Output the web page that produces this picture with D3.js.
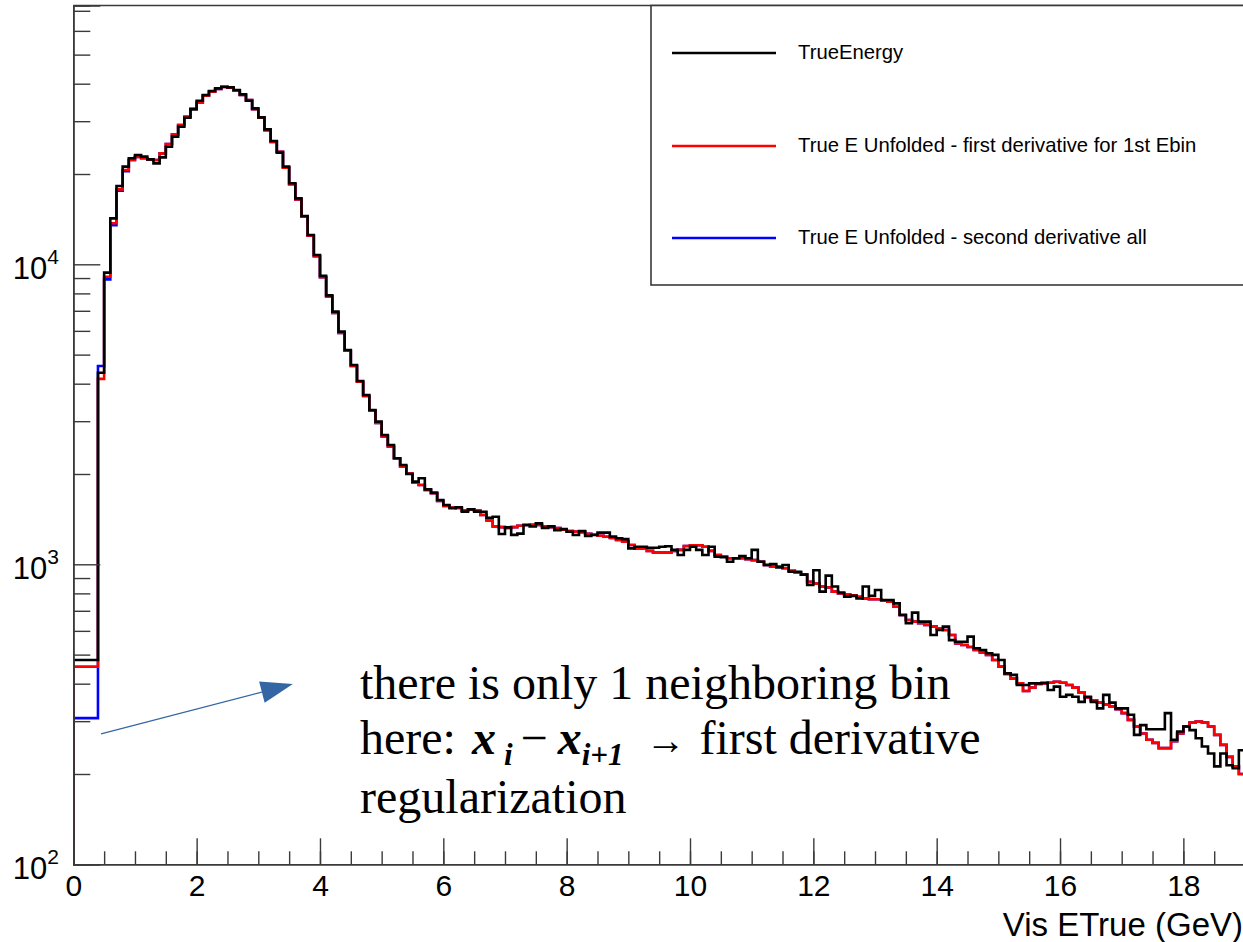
<!DOCTYPE html>
<html>
<head>
<meta charset="utf-8">
<script src="https://cdn.jsdelivr.net/npm/d3@7"></script>
<style>
  html, body { margin: 0; padding: 0; background: #fff; }
  svg { display: block; }
</style>
</head>
<body>
<svg id="chart" width="1243" height="942"></svg>
<script>
// Histogram binning: 0.1 GeV bins starting at 0
const binLow = 0;
const binStep = 0.1;

// TrueEnergy
const trueEnergy = [
  480, 480, 480, 480, 4350, 9380, 14230, 18240, 21160, 22560,
  23140, 22850, 22380, 21700, 22730, 24660, 26640, 28760, 30810, 32850,
  35110, 36670, 37810, 38590, 39090, 38890, 38110, 36860, 35110, 33110,
  30900, 28180, 25760, 23560, 21160, 18620, 16590, 14490, 12520, 10740,
  9150, 7880, 6953, 5964, 5182, 4617, 4083, 3667, 3268, 2989,
  2698, 2499, 2256, 2143, 2000, 1886, 1935, 1778, 1733, 1638,
  1576, 1537, 1549, 1498, 1525, 1498, 1497, 1430, 1441, 1262,
  1328, 1253, 1266, 1352, 1338, 1369, 1323, 1338, 1300, 1310,
  1284, 1252, 1290, 1243, 1252, 1275, 1275, 1237, 1221, 1213,
  1130, 1144, 1144, 1135, 1135, 1144, 1149, 1117, 1074, 1117,
  1144, 1117, 1074, 1144, 1061, 1056, 1020, 1047, 1065, 1047,
  1117, 1020, 995, 1002, 977, 995, 945, 945, 924, 853,
  955, 811, 917, 843, 805, 780, 785, 770, 843, 785,
  821, 760, 760, 741, 678, 636, 690, 644, 644, 581,
  604, 620, 559, 552, 552, 574, 525, 518, 505, 499,
  480, 433, 428, 396, 396, 401, 401, 403, 381, 391,
  362, 367, 362, 348, 362, 348, 331, 367, 346, 331,
  331, 315, 270, 291, 282, 282, 282, 319, 260, 277,
  288, 280, 263, 247, 234, 212, 234, 214, 209, 240
];

// True E Unfolded - first derivative for 1st Ebin
const unfoldedFirstDeriv = [
  456, 456, 456, 456, 4150, 9090, 13700, 17780, 20620, 22270,
  22780, 22560, 22380, 22270, 23440, 25180, 27120, 29130, 31050, 33000,
  34600, 36500, 37600, 38400, 39000, 38800, 37900, 36680, 35270, 32900,
  30800, 28020, 25600, 23720, 21000, 18500, 16450, 14400, 12450, 10650,
  9050, 7820, 6880, 5900, 5150, 4580, 4060, 3640, 3250, 2960,
  2670, 2470, 2256, 2120, 2005, 1870, 1839, 1770, 1725, 1625,
  1565, 1545, 1540, 1510, 1525, 1510, 1460, 1400, 1338, 1330,
  1323, 1330, 1345, 1352, 1355, 1352, 1340, 1330, 1320, 1305,
  1290, 1285, 1280, 1265, 1255, 1245, 1235, 1225, 1205, 1190,
  1160, 1130, 1130, 1109, 1095, 1095, 1095, 1109, 1117, 1151,
  1158, 1158, 1144, 1109, 1074, 1061, 1047, 1047, 1047, 1040,
  1033, 1020, 995, 982, 982, 970, 952, 938, 924, 874,
  862, 843, 838, 811, 800, 793, 789, 780, 770, 765,
  765, 758, 750, 722, 678, 652, 644, 636, 628, 620,
  612, 604, 581, 545, 538, 530, 518, 508, 499, 480,
  456, 431, 416, 401, 378, 388, 399, 401, 403, 406,
  403, 396, 388, 374, 360, 352, 346, 341, 336, 329,
  319, 303, 288, 273, 260, 254, 244, 244, 257, 273,
  288, 297, 299, 297, 288, 270, 250, 228, 212, 200
];

// True E Unfolded - second derivative all
const unfoldedSecondDeriv = [
  307, 307, 307, 307, 4580, 8910, 13500, 17600, 20450, 22270,
  22780, 22560, 22380, 22270, 23440, 25180, 27120, 29130, 31050, 33000,
  34600, 36500, 37600, 38400, 39000, 38800, 37900, 36680, 35270, 32900,
  30800, 28020, 25600, 23720, 21000, 18500, 16450, 14400, 12450, 10650,
  9050, 7820, 6880, 5900, 5150, 4580, 4060, 3640, 3250, 2960,
  2670, 2470, 2256, 2120, 2005, 1870, 1839, 1770, 1725, 1625,
  1565, 1545, 1540, 1510, 1525, 1510, 1460, 1400, 1338, 1330,
  1323, 1330, 1345, 1352, 1355, 1352, 1340, 1330, 1320, 1305,
  1290, 1285, 1280, 1265, 1255, 1245, 1235, 1225, 1205, 1190,
  1160, 1130, 1130, 1109, 1095, 1095, 1095, 1109, 1117, 1151,
  1158, 1158, 1144, 1109, 1074, 1061, 1047, 1047, 1047, 1040,
  1033, 1020, 995, 982, 982, 970, 952, 938, 924, 874,
  862, 843, 838, 811, 800, 793, 789, 780, 770, 765,
  765, 758, 750, 722, 678, 652, 644, 636, 628, 620,
  612, 604, 581, 545, 538, 530, 518, 508, 499, 480,
  456, 431, 416, 401, 378, 388, 399, 401, 403, 406,
  403, 396, 388, 374, 360, 352, 346, 341, 336, 329,
  319, 303, 288, 273, 260, 254, 244, 244, 257, 273,
  288, 297, 299, 297, 288, 270, 250, 228, 212, 200
];

const seriesNames = [
  "TrueEnergy",
  "True E Unfolded - first derivative for 1st Ebin",
  "True E Unfolded - second derivative all"
];
const seriesColors = ["#000000", "#ff0000", "#0000ff"];

const xTickLabels = [0, 2, 4, 6, 8, 10, 12, 14, 16, 18];
const yDecades = [100, 1000, 10000];
const xTitle = "Vis ETrue (GeV)";

const noteLine1 = "there is only 1 neighboring bin";
const noteLine3 = "regularization";

// ---- layout ----
const svg = d3.select("#chart");
const frame = { left: 73.3, top: 5.5, bottom: 864.3 };
const pxPerUnit = 61.67;
const xMax = 20;
const yMin = 100, yMax = 72900;

const x = d3.scaleLinear().domain([0, xMax]).range([frame.left, frame.left + xMax * pxPerUnit]);
const y = d3.scaleLog().domain([yMin, yMax]).range([frame.bottom, frame.top]);

const axisColor = "#3a3a3a";
const sansFont = "'Liberation Sans', Arial, Helvetica, sans-serif";
const serifFont = "'Liberation Serif', 'Times New Roman', serif";

svg.append("defs").append("clipPath").attr("id", "plotClip")
  .append("rect")
  .attr("x", x(0)).attr("y", y(yMax))
  .attr("width", x(xMax) - x(0)).attr("height", y(yMin) - y(yMax));

// ---- histograms (drawn back to front: blue, red, black) ----
function stepPoints(values) {
  const pts = [[binLow, yMin]];
  values.forEach((v, i) => pts.push([binLow + i * binStep, v]));
  pts.push([binLow + values.length * binStep, values[values.length - 1]]);
  return pts;
}
const stepLine = d3.line()
  .x(d => x(d[0]))
  .y(d => y(Math.max(d[1], yMin)))
  .curve(d3.curveStepAfter);

const plot = svg.append("g").attr("clip-path", "url(#plotClip)");
const seriesData = [trueEnergy, unfoldedFirstDeriv, unfoldedSecondDeriv];
[2, 1, 0].forEach(k => {
  plot.append("path")
    .attr("d", stepLine(stepPoints(seriesData[k])))
    .attr("fill", "none")
    .attr("stroke", seriesColors[k])
    .attr("stroke-width", 2.6)
    .attr("stroke-linejoin", "miter");
});

// ---- frame ----
svg.append("line")
  .attr("x1", x(0)).attr("x2", x(xMax))
  .attr("y1", y(yMax)).attr("y2", y(yMax))
  .attr("stroke", axisColor).attr("stroke-width", 1.6);

// ---- x axis ----
const minorX = d3.range(0, xMax + 0.001, 0.5);
const gxMinor = svg.append("g").attr("transform", `translate(0,${frame.bottom})`)
  .call(d3.axisBottom(x).tickValues(minorX).tickSize(-13).tickFormat(""));
const gxMajor = svg.append("g").attr("transform", `translate(0,${frame.bottom})`)
  .call(d3.axisBottom(x).tickValues(xTickLabels).tickSize(-26).tickPadding(32).tickFormat(d3.format("d")));
[gxMinor, gxMajor].forEach(g => {
  g.selectAll("path.domain").attr("stroke", axisColor).attr("stroke-width", 1.6);
  g.selectAll(".tick line").attr("stroke", axisColor).attr("stroke-width", 1.4);
});
gxMajor.selectAll(".tick text")
  .attr("font-family", sansFont).attr("font-size", 30).attr("fill", "#000")
  .attr("dy", 0).attr("y", 32);

svg.append("text")
  .attr("x", 1243).attr("y", 936)
  .attr("text-anchor", "end")
  .attr("font-family", sansFont).attr("font-size", 33).attr("fill", "#000")
  .text(xTitle);

// ---- y axis ----
const minorY = [];
for (let dec = 100; dec <= 10000; dec *= 10) {
  for (let m = 2; m <= 9; m++) if (dec * m <= yMax) minorY.push(dec * m);
}
const gyMinor = svg.append("g").attr("transform", `translate(${frame.left},0)`)
  .call(d3.axisLeft(y).tickValues(minorY).tickSize(-17).tickFormat(""));
const gyMajor = svg.append("g").attr("transform", `translate(${frame.left},0)`)
  .call(d3.axisLeft(y).tickValues(yDecades).tickSize(-27).tickFormat(""));
[gyMinor, gyMajor].forEach(g => {
  g.selectAll("path.domain").attr("stroke", axisColor).attr("stroke-width", 1.6);
  g.selectAll(".tick line").attr("stroke", axisColor).attr("stroke-width", 1.4);
});
yDecades.forEach(v => {
  const t = svg.append("text")
    .attr("x", 59).attr("y", y(v) + 15)
    .attr("text-anchor", "end")
    .attr("font-family", sansFont).attr("font-size", 31).attr("fill", "#000");
  t.append("tspan").text("10");
  t.append("tspan").attr("font-size", 21).attr("dy", -15).text(String(Math.round(Math.log10(v))));
});

// ---- legend ----
const legend = svg.append("g");
legend.append("rect")
  .attr("x", 651).attr("y", y(yMax))
  .attr("width", 700).attr("height", 285 - y(yMax))
  .attr("fill", "#fff").attr("stroke", axisColor).attr("stroke-width", 1.6);
const legendRows = [53, 146, 238];
seriesNames.forEach((name, k) => {
  legend.append("line")
    .attr("x1", 672).attr("x2", 776)
    .attr("y1", legendRows[k]).attr("y2", legendRows[k])
    .attr("stroke", seriesColors[k]).attr("stroke-width", 2.6);
  legend.append("text")
    .attr("x", 798).attr("y", legendRows[k] + 6)
    .attr("font-family", sansFont).attr("font-size", 20.3).attr("fill", "#000")
    .text(name);
});

// ---- annotation ----
const noteColor = "#3465a4";
const arrowStart = [0.45, 272];
const arrowTip = [3.56, 399];
const ax0 = x(arrowStart[0]), ay0 = y(arrowStart[1]);
const ax1 = x(arrowTip[0]), ay1 = y(arrowTip[1]);
const ang = Math.atan2(ay1 - ay0, ax1 - ax0);
const headLen = 32, headHalf = 11;
const bx = ax1 - headLen * Math.cos(ang), by = ay1 - headLen * Math.sin(ang);
svg.append("line")
  .attr("x1", ax0).attr("y1", ay0).attr("x2", bx).attr("y2", by)
  .attr("stroke", noteColor).attr("stroke-width", 1.2);
svg.append("polygon")
  .attr("points", [
    [ax1, ay1],
    [bx + headHalf * Math.sin(ang), by - headHalf * Math.cos(ang)],
    [bx - headHalf * Math.sin(ang), by + headHalf * Math.cos(ang)]
  ].map(p => p.join(",")).join(" "))
  .attr("fill", noteColor);

const noteX = 360;
const noteSize = 48;
const note = svg.append("g").attr("font-family", serifFont).attr("fill", "#000");
note.append("text").attr("x", noteX).attr("y", 699).attr("font-size", noteSize).text(noteLine1);

const l2 = note.append("text").attr("x", noteX).attr("y", 754).attr("font-size", noteSize);
l2.append("tspan").text("here: ");
l2.append("tspan").attr("dx", 4).attr("font-weight", "bold").attr("font-style", "italic").text("x");
l2.append("tspan").attr("font-weight", "bold").attr("font-style", "italic")
  .attr("font-size", 31).attr("dy", 11).attr("dx", 8).text("i");
l2.append("tspan").attr("dy", -11).attr("dx", 8).text("\u2212");
l2.append("tspan").attr("dx", 10).attr("font-weight", "bold").attr("font-style", "italic").text("x");
l2.append("tspan").attr("font-weight", "bold").attr("font-style", "italic")
  .attr("font-size", 31).attr("dy", 11).text("i+1");
l2.append("tspan").attr("font-size", 40).attr("dy", -11).attr("dx", 22).text("\u2192");
l2.append("tspan").attr("dx", 14).text("first derivative");

note.append("text").attr("x", noteX).attr("y", 813).attr("font-size", noteSize).text(noteLine3);
</script>
</body>
</html>
